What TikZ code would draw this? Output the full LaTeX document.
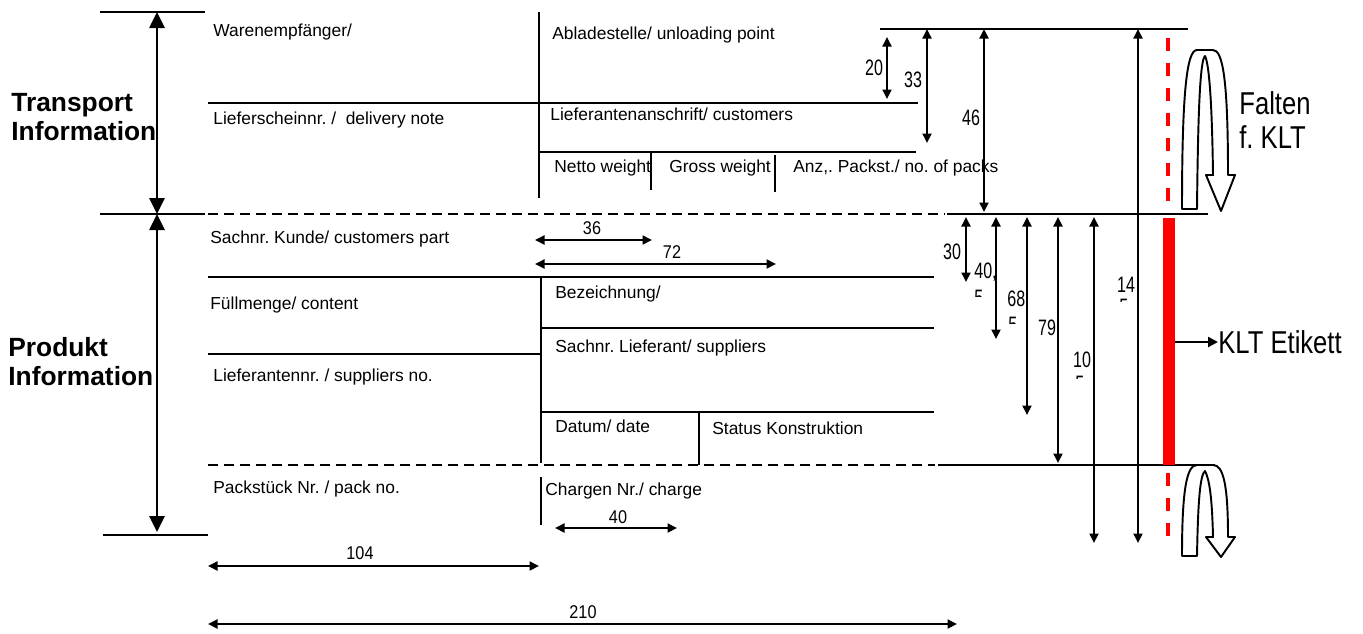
\documentclass[tikz,border=0pt]{standalone}
\usepackage{fontspec}
\setmainfont{Liberation Sans}
\usepackage{tikz}
\usetikzlibrary{arrows.meta}
\frenchspacing

\newcommand{\schmal}[1]{\scalebox{0.72}[1]{#1}}
\newcommand{\halbschmal}[1]{\scalebox{0.88}[1]{#1}}
\newcommand{\breitschmal}[1]{\scalebox{0.81}[1]{#1}}

% Faltpfeil: #1 oben, #2 unten (linker Schenkel), #3 Pfeilkopf-Basis, #4 Spitze
\newcommand{\faltpfeil}[4]{%
\draw[line width=1.1pt,fill=white,line join=round] (1182,#2) -- (1197,#2)
  .. controls (1198,{#1+0.4*(#2-#1)}) and (1200,{#1+10}) .. (1205,{#1+6})
  .. controls (1209,{#1+14}) and (1212,{#1+0.4*(#3-#1)}) .. (1213,#3)
  -- (1206,#3) -- (1221,#4) -- (1235,#3) -- (1228,#3)
  .. controls (1228,{#1+0.25*(#3-#1)}) and (1223,#1) .. (1213,#1)
  -- (1197,#1)
  .. controls (1187,#1) and (1182,{#1+0.25*(#2-#1)}) .. cycle;}

\tikzset{
  linie/.style={line width=1.1pt},
  strich/.style={line width=1.1pt,dash pattern=on 0.2cm off 0.12cm},
  mass/.style={line width=1.1pt,{Triangle[length=0.19cm,width=0.18cm]}-{Triangle[length=0.19cm,width=0.18cm]}},
  gross/.style={line width=1.5pt,{Triangle[length=0.32cm,width=0.3cm]}-{Triangle[length=0.32cm,width=0.3cm]}},
  feld/.style={anchor=base west,inner sep=0pt,font=\fontsize{9.9}{12}\selectfont},
  zahl/.style={inner sep=0pt,font=\fontsize{12.7}{14}\selectfont},
  zahlw/.style={inner sep=0pt,font=\fontsize{10.5}{12}\selectfont},
  titel/.style={anchor=west,align=left,inner sep=0pt,font=\fontsize{15}{16.5}\selectfont\bfseries},
  hinweis/.style={anchor=west,align=left,inner sep=0pt,font=\fontsize{18}{19.8}\selectfont},
  rot/.style={red,line width=2.3pt,dash pattern=on 0.26cm off 0.24cm},
}

\begin{document}
\begin{tikzpicture}[x=0.02cm,y=-0.02cm]
\useasboundingbox (0,0) rectangle (1363,633);

% Bereiche links
\draw[linie] (100,12) -- (205,12);
\draw[linie] (100,214) -- (205,214);
\draw[linie] (103,535) -- (208,535);
\draw[gross] (157,12) -- (157,214);
\draw[gross] (157,214) -- (157,532);
\node[titel] (transport) at (11,117) {Transport\\Information};
\node[titel] (produkt) at (8,362) {Produkt\\Information};

% Transport Information
\draw[linie] (208,103) -- (918,103);
\draw[linie] (539,12) -- (539,198);
\draw[linie] (539,152) -- (916,152);
\draw[linie] (651,152) -- (651,190);
\draw[linie] (775,155) -- (775,192);
\draw[strich] (208,214) -- (945,214);
\draw[linie] (947,214) -- (1208,214);
\draw[linie] (880,29) -- (1188,29);

\node[feld] (empf) at (213,36) {Warenempfänger/};
\node[feld] (ablade) at (552,39) {Abladestelle/ unloading point};
\node[feld] (liefsch) at (213,124) {Lieferscheinnr. /\ \ delivery note};
\node[feld] (anschr) at (550,120) {Lieferantenanschrift/ customers};
\node[feld] (netto) at (554,172) {Netto weight};
\node[feld] (brutto) at (669,172) {Gross weight};
\node[feld] (anzahl) at (793,172) {Anz,. Packst./ no. of packs};

% Produkt Information
\draw[linie] (208,277) -- (934,277);
\draw[linie] (541,277) -- (541,463);
\draw[linie] (541,328) -- (934,328);
\draw[linie] (208,354) -- (541,354);
\draw[linie] (541,412) -- (934,412);
\draw[linie] (699,412) -- (699,465);
\draw[strich] (208,465) -- (935,465);
\draw[linie] (938,465) -- (1215,465);
\draw[linie] (541,477) -- (541,525);

\node[feld] (kunde) at (210,243) {Sachnr. Kunde/ customers part};
\node[feld] (fuell) at (210,309) {Füllmenge/ content};
\node[feld] (bez) at (555,298) {Bezeichnung/};
\node[feld] (sachlief) at (555,352) {Sachnr. Lieferant/ suppliers};
\node[feld] (liefnr) at (213,381) {Lieferantennr. / suppliers no.};
\node[feld] (datum) at (555,432) {Datum/ date};
\node[feld] (status) at (712,434) {Status Konstruktion};
\node[feld] (packst) at (213,493) {Packstück Nr. / pack no.};
\node[feld] (charge) at (545,495) {Chargen Nr./ charge};

% Masse waagrecht
\draw[mass] (535,240) -- (652,240);
\draw[mass] (535,264) -- (776,264);
\draw[mass] (555,528) -- (677,528);
\draw[mass] (208,566) -- (539,566);
\draw[mass] (208,624) -- (957,624);
\node[zahlw] (m36) at (592,228) {\halbschmal{36}};
\node[zahlw] (m72) at (672,252) {\halbschmal{72}};
\node[zahlw] (m40b) at (618,517) {\halbschmal{40}};
\node[zahlw] (m104) at (360,553) {\halbschmal{104}};
\node[zahlw] (m210) at (583,612) {\halbschmal{210}};

% Masse senkrecht
\draw[mass] (887,37) -- (887,99);
\draw[mass] (927,29) -- (927,143);
\draw[mass] (984,29) -- (984,212);
\draw[mass] (1138,29) -- (1138,543);
\draw[mass] (966,217) -- (966,282);
\draw[mass] (996,217) -- (996,339);
\draw[mass] (1027,217) -- (1027,415);
\draw[mass] (1058,217) -- (1058,463);
\draw[mass] (1094,217) -- (1094,543);
\node[zahl] (m20) at (874,68) {\schmal{20}};
\node[zahl] (m33) at (913,80) {\schmal{33}};
\node[zahl] (m46) at (971,118) {\schmal{46}};
\node[zahl] (m30) at (952,252) {\schmal{30}};
\node[zahl,anchor=west] (m40) at (974,272) {\schmal{40,}};
\node[zahl,anchor=west] (m68) at (1007,300) {\schmal{68,}};
\node[zahl] (m79) at (1047,328) {\schmal{79}};
\node[zahl] (m10) at (1082,360) {\schmal{10}};
\node[zahl] (m14) at (1126,285) {\schmal{14}};
% abgeschnittene zweite Zeile
\begin{scope}
\clip (970,289) rectangle (990,296);
\node[zahl,anchor=north west] (r40) at (974,290) {\schmal{5}};
\end{scope}
\begin{scope}
\clip (1004,316) rectangle (1024,323);
\node[zahl,anchor=north west] (r68) at (1008,317) {\schmal{5}};
\end{scope}
\begin{scope}
\clip (1071,375) rectangle (1090,378);
\node[zahl,anchor=north west] (r10) at (1075,375.5) {\schmal{5}};
\end{scope}
\begin{scope}
\clip (1115,298) rectangle (1134,301);
\node[zahl,anchor=north west] (r14) at (1119,298.5) {\schmal{5}};
\end{scope}

% KLT Etikett
\draw[rot] (1168,38) -- (1168,212);
\fill[red] (1163,218) rectangle (1175,465);
\draw[rot] (1168,473) -- (1168,545);
\coordinate (etik) at (1175,342);
\node[hinweis] (klt) at (1218,342) {\breitschmal{KLT Etikett}};
\draw[line width=1.3pt,-{Triangle[length=0.2cm,width=0.2cm]}] (etik) -- (klt.west);

% Falten
\faltpfeil{50}{209}{175}{211}
\faltpfeil{465}{556}{537}{557}
\node[hinweis] (falten) at (1239,120) {\breitschmal{Falten}\\\breitschmal{f. KLT}};

\end{tikzpicture}
\end{document}
